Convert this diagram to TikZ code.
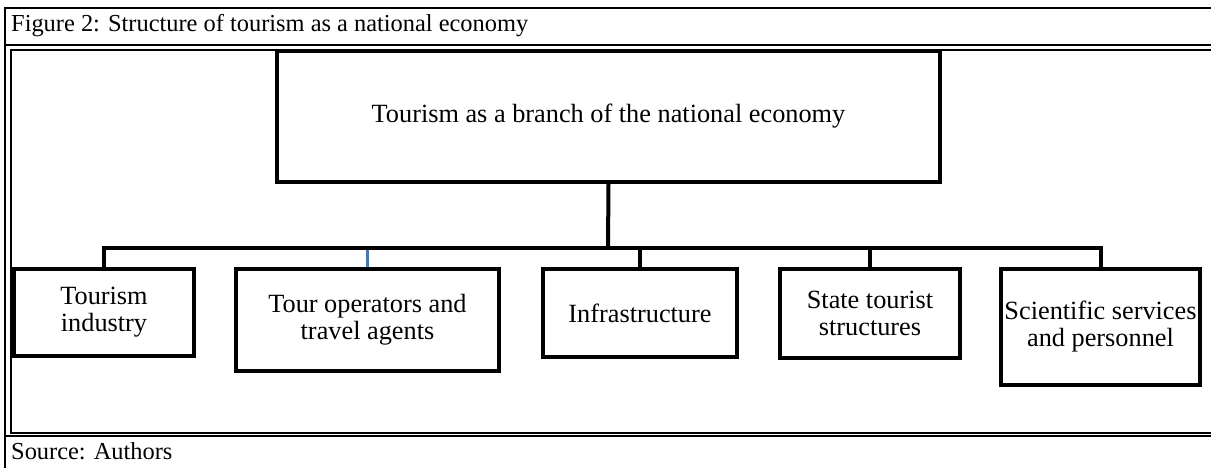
\documentclass[tikz,border=0pt]{standalone}
\usepackage{fontspec}
\setmainfont{Liberation Serif}
\definecolor{dropblue}{RGB}{74,118,178}
\begin{document}
\begin{tikzpicture}[x=1pt,y=-1pt,
  box/.style={draw, line width=4pt, inner sep=0pt, align=center,
    font=\fontsize{26.3}{27}\selectfont},
  link/.style={line width=4pt},
  rule/.style={line width=1.8pt},
  label/.style={anchor=base west, inner sep=0pt, font=\fontsize{24.4}{28}\selectfont}]
\useasboundingbox (0,0) rectangle (1211,468);
% table frame round the figure
\draw[rule] (1211,8) -- (5,8) -- (5,468);
\draw[rule] (5,45) -- (1211,45);
\draw[rule] (1211,50) -- (11,50) -- (11,433) -- (1211,433);
\draw[rule] (5,436) -- (1211,436);
\node[label] (caption) at (11,32) {Figure 2: Structure of tourism as a national economy};
\node[label] (source) at (11,459) {Source: Authors};

\node[box, minimum width=663pt, minimum height=131pt] (branch) at (608.5,116.5) {Tourism as a branch of the national economy};
\node[box, minimum width=180pt, minimum height=87pt] (industry) at (104,312.5) {Tourism\\industry};
\node[box, minimum width=263pt, minimum height=102pt] (operators) at (367.5,320) {Tour operators and\\travel agents};
\node[box, minimum width=194pt, minimum height=88pt] (infra) at (640,313) {Infrastructure};
\node[box, minimum width=180pt, minimum height=89pt] (state) at (870,313.5) {State tourist\\structures};
\node[box, minimum width=199pt, minimum height=116pt] (science) at (1100.5,327) {Scientific services\\and personnel};

\coordinate (bus) at (608,248);
\draw[link, dropblue, line width=3pt] (operators.north) -- (operators.north |- bus);
\draw[link] (branch.south) -- (bus);
\foreach \b in {industry,infra,state,science}
  \draw[link] (bus) -| (\b.north);
\end{tikzpicture}
\end{document}
